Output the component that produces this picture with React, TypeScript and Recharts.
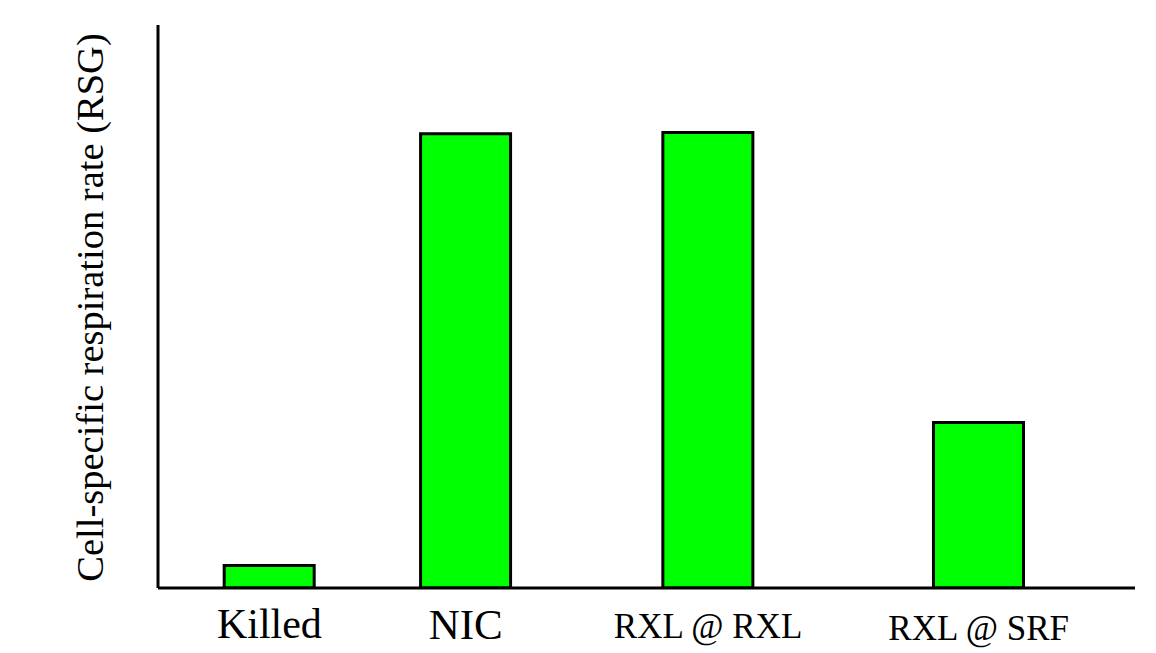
import React from "react";
import { BarChart, Bar, XAxis, YAxis, Label } from "recharts";

const categories = ["Killed", "NIC", "RXL @ RXL", "RXL @ SRF"];
const groupPositions = [11.4, 31.5, 56.3, 84.0];
const respirationRates = [4.0, 80.7, 80.9, 29.4];
const yAxisTitle = "Cell-specific respiration rate (RSG)";

const data = categories.map((name, i) => ({
  name,
  pos: groupPositions[i],
  rate: respirationRates[i],
}));

const FONT = '"Liberation Serif", "Times New Roman", serif';
const tickFontSize: Record<string, number> = {
  Killed: 42,
  NIC: 43,
  "RXL @ RXL": 35,
  "RXL @ SRF": 35,
};
const tickDy: Record<string, number> = {
  Killed: 42,
  NIC: 43,
  "RXL @ RXL": 42,
  "RXL @ SRF": 44,
};

function CategoryTick(props: any) {
  const { x, y, payload } = props;
  const idx = groupPositions.indexOf(payload.value);
  const name = categories[idx] ?? "";
  return (
    <text
      x={x}
      y={y}
      dy={tickDy[name] ?? 40}
      textAnchor="middle"
      fontFamily={FONT}
      fontSize={tickFontSize[name] ?? 36}
      fill="#000"
    >
      {name}
    </text>
  );
}

function YTitle(props: any) {
  const vb = props.viewBox || { x: 0, y: 0, width: 0, height: 0 };
  const cx = vb.x + 103;
  const cy = vb.y + vb.height / 2 + 1;
  return (
    <text
      x={cx}
      y={cy}
      textAnchor="middle"
      fontFamily={FONT}
      fontSize={38.5}
      fill="#000"
      transform={`rotate(-90, ${cx}, ${cy})`}
    >
      {yAxisTitle}
    </text>
  );
}

export default function App() {
  return (
    <div
      style={{
        position: "absolute",
        left: 0,
        top: 0,
        width: 1156,
        height: 653,
        background: "#fff",
      }}
    >
      <BarChart
        width={1156}
        height={653}
        data={data}
        margin={{ top: 25, right: 21, bottom: 0, left: 0 }}
      >
        <XAxis
          type="number"
          dataKey="pos"
          domain={[0, 100]}
          ticks={groupPositions}
          interval={0}
          tick={<CategoryTick />}
          tickLine={false}
          axisLine={{ stroke: "#000", strokeWidth: 3 }}
          height={65}
          allowDataOverflow
        />
        <YAxis
          type="number"
          domain={[0, 100]}
          width={158}
          tick={false}
          tickLine={false}
          axisLine={{ stroke: "#000", strokeWidth: 3 }}
          allowDataOverflow
        >
          <Label content={<YTitle />} />
        </YAxis>
        <Bar
          dataKey="rate"
          fill="#00ff00"
          stroke="#000"
          strokeWidth={3}
          barSize={90}
          isAnimationActive={false}
        />
      </BarChart>
    </div>
  );
}
